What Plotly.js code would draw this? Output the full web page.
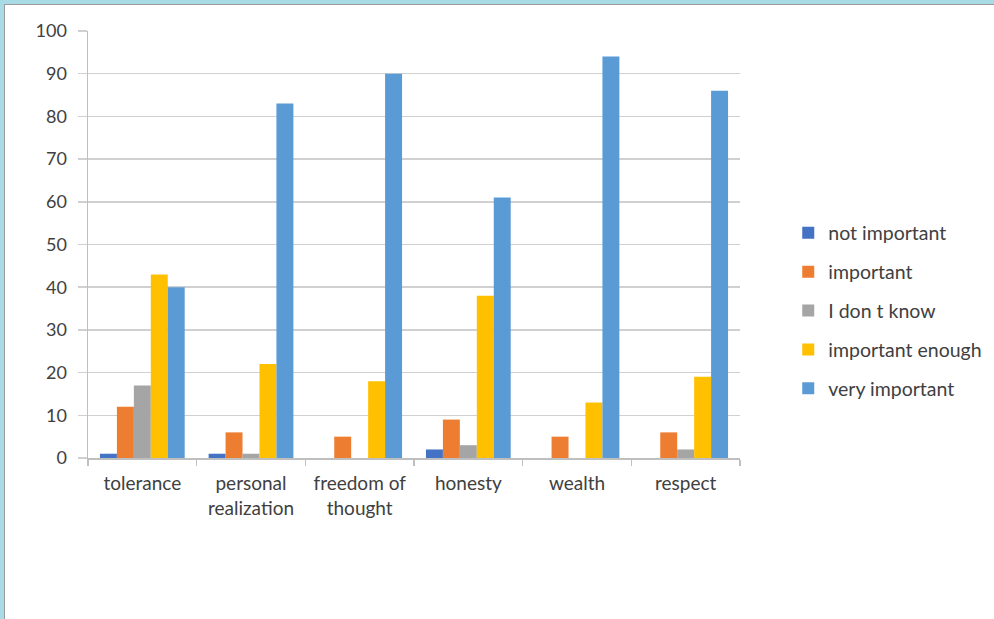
<!DOCTYPE html>
<html>
<head>
<meta charset="utf-8">
<script src="https://cdn.plot.ly/plotly-3.0.1.min.js"></script>
<style>
  html, body { margin: 0; padding: 0; width: 994px; height: 619px; overflow: hidden;
    background: #a9dbe6; }
  #frame { position: absolute; left: 4px; top: 4px; width: 990px; height: 615px;
    background: #ffffff; border-left: 1px solid #9a9a9a; border-top: 1px solid #9a9a9a; }
  #chart { position: absolute; left: 0; top: 0; width: 990px; height: 615px; }
</style>
</head>
<body>
<div id="frame"><div id="chart"></div></div>
<script>
const categories = ["tolerance", "personal<br>realization", "freedom of<br>thought", "honesty", "wealth", "respect"];
const seriesNames = ["not important", "important", "I don t know", "important enough", "very important"];
const notImportant    = [1, 1, 0, 2, 0, 0];
const important       = [12, 6, 5, 9, 5, 6];
const dontKnow        = [17, 1, 0, 3, 0, 2];
const importantEnough = [43, 22, 18, 38, 13, 19];
const veryImportant   = [40, 83, 90, 61, 94, 86];
const colors = ["#4472C4", "#ED7D31", "#A5A5A5", "#FFC000", "#5B9BD5"];
const yTicks = [0, 10, 20, 30, 40, 50, 60, 70, 80, 90, 100];

const values = [notImportant, important, dontKnow, importantEnough, veryImportant];
const traces = values.map((v, i) => ({
  type: "bar",
  name: seriesNames[i],
  x: categories,
  y: v,
  marker: { color: colors[i] },
  legendgroup: "g" + i,
  hoverinfo: "x+y+name"
}));

const font = "Lato, 'Open Sans', 'DejaVu Sans', sans-serif";
const layout = {
  width: 990, height: 615,
  margin: { l: 83, r: 255, t: 26, b: 162, autoexpand: false },
  paper_bgcolor: "#ffffff",
  plot_bgcolor: "#ffffff",
  barmode: "group",
  bargap: 0.22,
  bargroupgap: 0,
  font: { family: font, color: "#404040", size: 18 },
  xaxis: {
    type: "category",
    showline: true, linecolor: "#bfbfbf", linewidth: 1.5,
    ticks: "outside", tickson: "boundaries", ticklen: 6, tickcolor: "#bfbfbf", tickwidth: 1.5,
    tickfont: { size: 19, color: "#404040" },
    ticklabelstandoff: 8,
    showgrid: false,
    zeroline: false
  },
  yaxis: {
    range: [0, 100],
    tickvals: yTicks,
    ticktext: yTicks.map(String),
    showgrid: true, gridcolor: "#d0d0d0", gridwidth: 1.5,
    showline: true, linecolor: "#bfbfbf", linewidth: 1.5,
    ticks: "outside", ticklen: 9, tickcolor: "#d0d0d0", tickwidth: 1.5,
    tickfont: { size: 18, color: "#404040" },
    ticklabelstandoff: 7,
    zeroline: false
  },
  showlegend: true,
  legend: {
    x: 1.074, xanchor: "left",
    y: 0.345, yanchor: "middle",
    font: { size: 19.5, color: "#404040" },
    traceorder: "grouped",
    tracegroupgap: 10.5,
    itemwidth: 30,
    bgcolor: "rgba(0,0,0,0)"
  }
};

Plotly.newPlot("chart", traces, layout, { displayModeBar: false, staticPlot: true });
</script>
</body>
</html>
